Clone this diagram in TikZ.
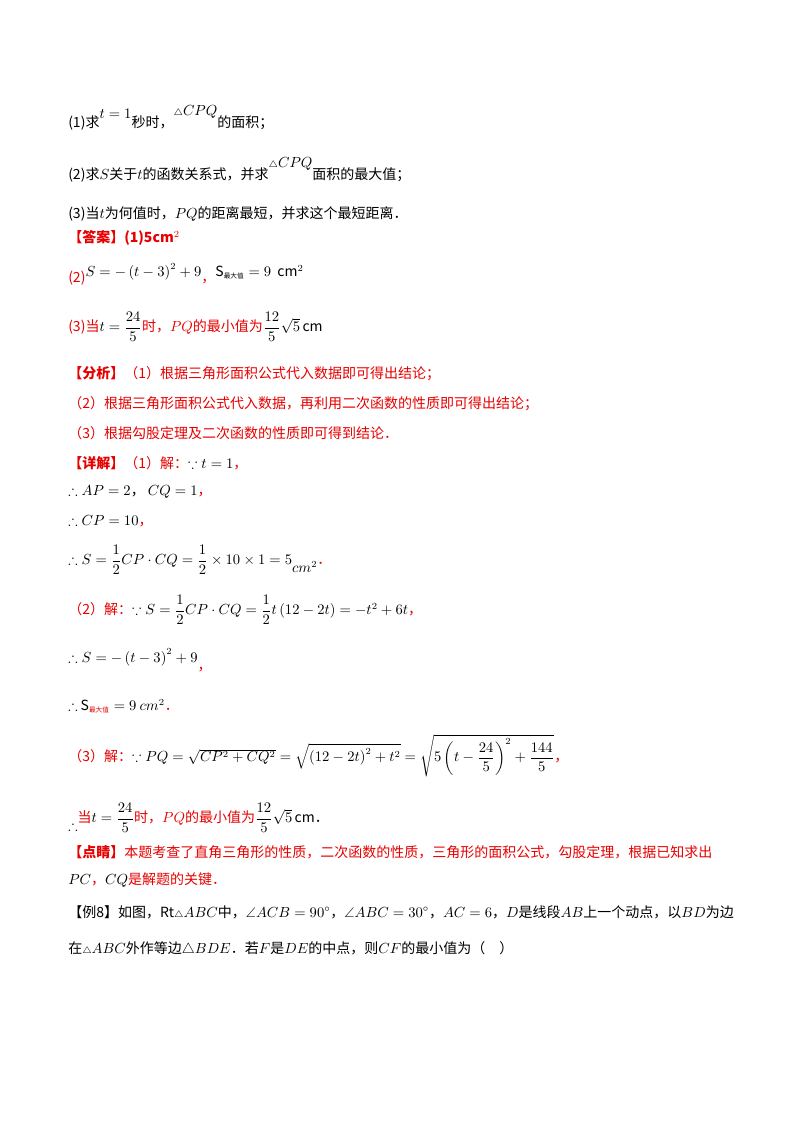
\documentclass[tikz,border=0pt]{standalone}
\usepackage{fontspec}
\usepackage{amsmath,amssymb}
\setmainfont{Liberation Serif}
\newfontfamily\cjk{Noto Sans CJK SC}
\definecolor{rd}{RGB}{230,0,0}
\begin{document}
\begin{tikzpicture}[x=0.75pt,y=-0.75pt,
  t/.style={anchor=west,inner sep=0pt,font=\fontsize{10.5}{12}\selectfont\cjk},
  r/.style={t,text=rd}]
\useasboundingbox (0,0) rectangle (800,1132);
\node[t] (l1) at (68,118) {(1)求\raisebox{7pt}{$t=1$}秒时，\raisebox{9pt}{$\scriptstyle\triangle$$CPQ$}的面积；};
\node[t] (l2) at (68,170) {(2)求$S$关于$t$的函数关系式，并求\raisebox{9pt}{$\scriptstyle\triangle$$CPQ$}面积的最大值；};
\node[t] (l3) at (68,214) {(3)当$t$为何值时，$PQ$的距离最短，并求这个最短距离．};
\node[r] (a0) at (68,238) {\textbf{【答案】(1)5cm$^2$}};
\node[r] (a2) at (68,274) {(2)\raisebox{4pt}{\color{black}$S=-\left(t-3\right)^2+9$}，\raisebox{4pt}{\color{black}S$_{\text{\cjk\tiny 最大值}}=9$\ \ cm$^2$}};
\node[r] (a3) at (68,327) {(3)当\color{black}$t=\dfrac{24}{5}$\color{rd}时，$PQ$的最小值为\color{black}$\dfrac{12}{5}\sqrt5$\,cm};
\node[r] (f0) at (68,374) {\textbf{【分析】}（1）根据三角形面积公式代入数据即可得出结论；};
\node[r] (f1) at (68,404) {（2）根据三角形面积公式代入数据，再利用二次函数的性质即可得出结论；};
\node[r] (f2) at (68,433) {（3）根据勾股定理及二次函数的性质即可得到结论．};
\node[r] (d0) at (68,463) {\textbf{【详解】}（1）解：\color{black}$\because t=1$\color{rd}，};
\node[t] (d1) at (68,492) {$\therefore AP=2$，\ $CQ=1$\color{rd}，};
\node[t] (d2) at (68,521) {$\therefore CP=10$\color{rd}，};
\node[t] (d3) at (68,560) {$\therefore S=\dfrac12 CP\cdot CQ=\dfrac12\times10\times1=5$\raisebox{-6pt}{$cm^2$}\color{rd}．};
\node[r] (d4) at (68,610) {（2）解：\color{black}$\because S=\dfrac12 CP\cdot CQ=\dfrac12 t\left(12-2t\right)=-t^2+6t$\color{rd}，};
\node[t] (d5) at (68,660) {$\therefore S=-\left(t-3\right)^2+9$\raisebox{-6pt}{\color{rd}，}};
\node[t] (d6) at (68,706) {$\therefore$ S$_{\text{\cjk\tiny\color{rd}最大值}}=9\ cm^2$\color{rd}．};
\node[r] (d7) at (68,756) {（3）解：\color{black}$\because PQ=\sqrt{CP^2+CQ^2}=\sqrt{\left(12-2t\right)^2+t^2}=\sqrt{5\left(t-\dfrac{24}{5}\right)^2+\dfrac{144}{5}}$\color{rd}，};
\node[t] (d8) at (68,818) {\raisebox{-6pt}{$\therefore$}\color{rd}当\color{black}$t=\dfrac{24}{5}$\color{rd}时，$PQ$的最小值为\color{black}$\dfrac{12}{5}\sqrt5$\,cm．};
\node[r] (p0) at (68,852) {\textbf{【点睛】}本题考查了直角三角形的性质，二次函数的性质，三角形的面积公式，勾股定理，根据已知求出};
\node[r] (p1) at (68,880) {\color{black}$PC$\color{rd}，\color{black}$CQ$\color{rd}是解题的关键．};
\node[t] (e0) at (68,912) {【例8】如图，Rt$\scriptstyle\triangle$$ABC$中，$\angle ACB=90^\circ$，$\angle ABC=30^\circ$，$AC=6$，$D$是线段$AB$上一个动点，以$BD$为边};
\node[t] (e1) at (68,949) {在$\scriptstyle\triangle$$ABC$外作等边$\triangle BDE$．若$F$是$DE$的中点，则$CF$的最小值为（\quad）};
\end{tikzpicture}
\end{document}
